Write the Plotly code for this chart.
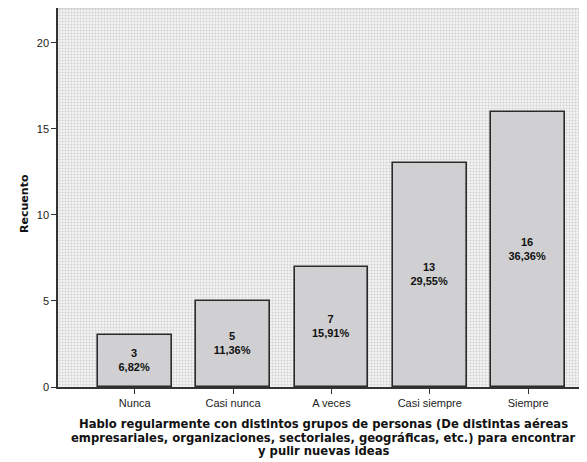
import plotly.graph_objects as go

categories = ["Nunca", "Casi nunca", "A veces", "Casi siempre", "Siempre"]
counts = [3, 5, 7, 13, 16]
percents = ["6,82%", "11,36%", "15,91%", "29,55%", "36,36%"]
y_ticks = [0, 5, 10, 15, 20]
Y_MAX = 22.03
x_title_lines = [
    "Hablo regularmente con distintos grupos de personas (De distintas aéreas",
    "empresariales, organizaciones, sectoriales, geográficas, etc.) para encontrar",
    "y pulir nuevas ideas",
]
y_title = "Recuento"

labels = [f"{c}<br>{p}" for c, p in zip(counts, percents)]
FONT = "Liberation Sans, Arial, sans-serif"
TITLE_FONT = "DejaVu Sans, Verdana, sans-serif"

fig = go.Figure()

# dotted background (decorative), drawn first so it sits under the bars
fig.add_trace(go.Bar(
    x=[(len(categories) - 1) / 2], y=[Y_MAX], width=[len(categories) + 4],
    marker=dict(color="white", line=dict(width=0),
                pattern=dict(shape=".", fgcolor="#b0b0b0", bgcolor="#f3f3f3", size=3, solidity=0.4)),
    hoverinfo="skip", showlegend=False,
))

fig.add_trace(go.Bar(
    x=list(range(len(categories))), y=counts, width=0.75,
    marker=dict(color="#d0d0d2", line=dict(color="#2a2a2a", width=1.6)),
    text=labels, textposition="inside", insidetextanchor="middle",
    textfont=dict(family=FONT, size=11, color="#111111"),
    texttemplate="<b>%{text}</b>", textangle=0,
    showlegend=False,
))

annotations = []
for i, line in enumerate(x_title_lines):
    annotations.append(dict(
        text=f"<b>{line}</b>", xref="paper", yref="paper", x=0.495, y=0,
        xanchor="center", yanchor="middle", yshift=-37 - 13.5 * i, showarrow=False,
        font=dict(family=TITLE_FONT, size=11.6, color="#111111"),
    ))
annotations.append(dict(
    text=f"<b>{y_title}</b>", xref="paper", yref="paper", x=0, y=0.483,
    xanchor="center", yanchor="middle", xshift=-33, textangle=-90, showarrow=False,
    font=dict(family=TITLE_FONT, size=11, color="#111111"),
))

fig.update_layout(
    width=587, height=462,
    margin=dict(l=50, r=0, t=0, b=83),
    paper_bgcolor="white", plot_bgcolor="white",
    font=dict(family=FONT, color="#222222"),
    barmode="overlay", bargap=0,
    xaxis=dict(
        range=[-0.78, 4.68], tickmode="array",
        tickvals=list(range(len(categories))), ticktext=categories,
        showgrid=False, zeroline=False, automargin=False,
        showline=True, linecolor="#333333", linewidth=1.5,
        ticks="outside", ticklen=5, tickcolor="#333333", tickwidth=1.2,
        tickfont=dict(size=11, color="#222222"),
        layer="above traces",
    ),
    yaxis=dict(
        range=[0, Y_MAX], tickvals=y_ticks,
        showgrid=False, zeroline=False, automargin=False,
        showline=True, linecolor="#333333", linewidth=1.5,
        ticks="outside", ticklen=5, tickcolor="#333333", tickwidth=1.2,
        tickfont=dict(size=11, color="#222222"),
        layer="above traces",
    ),
    annotations=annotations,
    shapes=[dict(type="line", xref="paper", yref="paper", x0=0, x1=1, y0=1, y1=1,
                 line=dict(color="#bbbbbb", width=1))],
)

fig.write_html("out.html")
